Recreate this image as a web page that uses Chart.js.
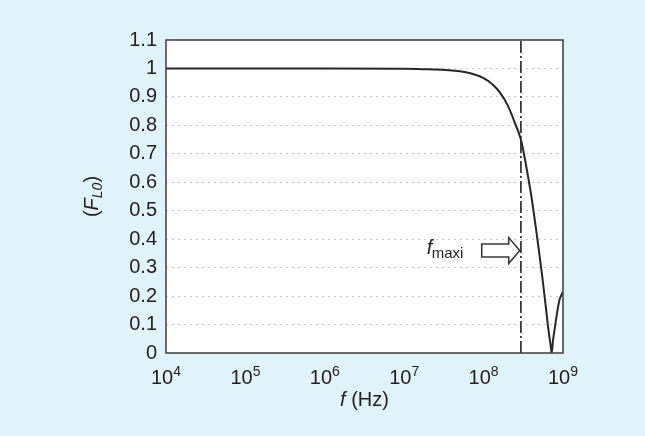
<!DOCTYPE html>
<html>
<head>
<meta charset="utf-8">
<script src="https://cdn.jsdelivr.net/npm/chart.js@4.4.1/dist/chart.umd.min.js"></script>
<style>
    html, body { margin: 0; padding: 0; background: #e0f2fa; }
    #wrap { width: 645px; height: 436px; }
</style>
</head>
<body>
<div id="wrap"><canvas id="fl0_chart" width="645" height="436"></canvas></div>
<script>
// frequency (Hz) and F_L0
var freqs = [1e4, 1e5, 1e6, 1e7, 2e7, 5e7, 7e7, 1e8, 1.3e8, 1.6e8, 2e8, 2.5e8, 2.95e8, 3.5e8, 4e8, 4.5e8, 5e8, 5.5e8, 6e8, 6.5e8, 7e8, 7.2e8, 7.5e8, 8e8, 8.5e8, 9e8, 1e9];
var fl0 = [1, 1, 1, 0.999, 0.997, 0.99, 0.982, 0.966, 0.944, 0.916, 0.872, 0.806, 0.75, 0.645, 0.55, 0.45, 0.355, 0.265, 0.175, 0.09, 0.025, 0, 0.045, 0.1, 0.148, 0.185, 0.215];
// f_maxi marker
var fmaxi = 2.95e8;
var xDecades = [4, 5, 6, 7, 8, 9];
var yMin = 0, yMax = 1.1;

document.addEventListener("DOMContentLoaded", function() {
    'use strict';

    var curve = freqs.map(function(f, i) { return { x: f, y: fl0[i] }; });
    var marker = [{ x: fmaxi, y: yMin }, { x: fmaxi, y: yMax }];
    var font = '"Liberation Sans", Arial, sans-serif';
    var ink = '#231f20';

    var decorations = {
        id: 'decorations',
        beforeDraw: function(chart) {
            var ctx = chart.ctx, a = chart.chartArea;
            ctx.save();
            ctx.fillStyle = '#e0f2fa';
            ctx.fillRect(0, 0, chart.width, chart.height);
            ctx.fillStyle = '#ffffff';
            ctx.fillRect(a.left, a.top, a.right - a.left, a.bottom - a.top);
            ctx.restore();
        },
        afterDraw: function(chart) {
            var ctx = chart.ctx, a = chart.chartArea;
            var xs = chart.scales.x, ys = chart.scales.y;
            ctx.save();

            // frame
            ctx.strokeStyle = '#3a3a3a';
            ctx.lineWidth = 1.5;
            ctx.strokeRect(a.left, a.top, a.right - a.left, a.bottom - a.top);

            // x tick labels 10^n
            ctx.fillStyle = ink;
            ctx.textBaseline = 'alphabetic';
            ctx.textAlign = 'left';
            xDecades.forEach(function(d) {
                var px = xs.getPixelForValue(Math.pow(10, d));
                ctx.font = '20px ' + font;
                var wb = ctx.measureText('10').width;
                ctx.font = '14px ' + font;
                var we = ctx.measureText(String(d)).width;
                var x0 = px - (wb + we) / 2;
                ctx.font = '20px ' + font;
                ctx.fillText('10', x0, 384);
                ctx.font = '14px ' + font;
                ctx.fillText(String(d), x0 + wb, 376);
            });

            // x title: f (Hz)
            ctx.font = 'italic 20px ' + font;
            var wf = ctx.measureText('f').width;
            ctx.font = '20px ' + font;
            var wh = ctx.measureText(' (Hz)').width;
            var cx = (a.left + a.right) / 2 - (wf + wh) / 2;
            ctx.font = 'italic 20px ' + font;
            ctx.fillText('f', cx, 406);
            ctx.font = '20px ' + font;
            ctx.fillText(' (Hz)', cx + wf, 406);

            // y title: (F_L0)
            var parts = [
                { t: '(', f: '20px ' + font, dy: 0 },
                { t: 'F', f: 'italic 20px ' + font, dy: 0 },
                { t: 'L0', f: 'italic 14px ' + font, dy: 4 },
                { t: ')', f: '20px ' + font, dy: 0 }
            ];
            var total = 0;
            parts.forEach(function(p) { ctx.font = p.f; p.w = ctx.measureText(p.t).width; total += p.w; });
            ctx.save();
            ctx.translate(98, (a.top + a.bottom) / 2);
            ctx.rotate(-Math.PI / 2);
            var tx = -total / 2;
            parts.forEach(function(p) {
                ctx.font = p.f;
                ctx.fillText(p.t, tx, p.dy);
                tx += p.w;
            });
            ctx.restore();

            // arrow pointing at f_maxi
            var tipX = xs.getPixelForValue(2.85e8);
            var cy = ys.getPixelForValue(0.36);
            var tail = tipX - 38, neck = tipX - 11;
            ctx.beginPath();
            ctx.moveTo(tail, cy - 6.5);
            ctx.lineTo(neck, cy - 6.5);
            ctx.lineTo(neck, cy - 13);
            ctx.lineTo(tipX, cy);
            ctx.lineTo(neck, cy + 13);
            ctx.lineTo(neck, cy + 6.5);
            ctx.lineTo(tail, cy + 6.5);
            ctx.closePath();
            ctx.fillStyle = '#ffffff';
            ctx.fill();
            ctx.strokeStyle = '#3a3a3a';
            ctx.lineWidth = 1.6;
            ctx.stroke();

            // f_maxi label
            ctx.fillStyle = ink;
            ctx.font = 'italic 20px ' + font;
            ctx.fillText('f', tail - 55, cy + 3);
            ctx.font = '15px ' + font;
            ctx.fillText('maxi', tail - 50, cy + 7);

            ctx.restore();
        }
    };

    new Chart(document.getElementById('fl0_chart').getContext('2d'), {
        type: 'line',
        data: {
            datasets: [{
                label: 'F_L0',
                data: curve,
                borderColor: '#262626',
                borderWidth: 2,
                pointRadius: 0,
                cubicInterpolationMode: 'monotone'
            }, {
                label: 'f_maxi',
                data: marker,
                borderColor: '#3a3a3a',
                borderWidth: 1.8,
                borderDash: [12, 3, 2, 3],
                pointRadius: 0
            }]
        },
        options: {
            responsive: false,
            animation: false,
            events: [],
            layout: { padding: { left: 0, right: 82, top: 40, bottom: 83 } },
            plugins: {
                legend: { display: false },
                tooltip: { enabled: false }
            },
            scales: {
                x: {
                    type: 'logarithmic',
                    min: 1e4,
                    max: 1e9,
                    ticks: { display: false },
                    grid: { display: false },
                    border: { display: false },
                    afterFit: function(scale) { scale.height = 0; }
                },
                y: {
                    type: 'linear',
                    min: yMin,
                    max: yMax,
                    ticks: {
                        stepSize: 0.1,
                        padding: 9,
                        color: ink,
                        font: { family: font, size: 20 },
                        callback: function(v) { return String(Math.round(v * 10) / 10); }
                    },
                    grid: {
                        drawTicks: false,
                        color: function(c) {
                            var v = Math.round(c.tick.value * 10) / 10;
                            return (v === 0 || v === 1.1) ? 'rgba(0,0,0,0)' : '#cacaca';
                        },
                        lineWidth: 1
                    },
                    border: { display: false, dash: [2, 4] },
                    afterFit: function(scale) { scale.width = 166; }
                }
            }
        },
        plugins: [decorations]
    });
});
</script>
</body>
</html>
